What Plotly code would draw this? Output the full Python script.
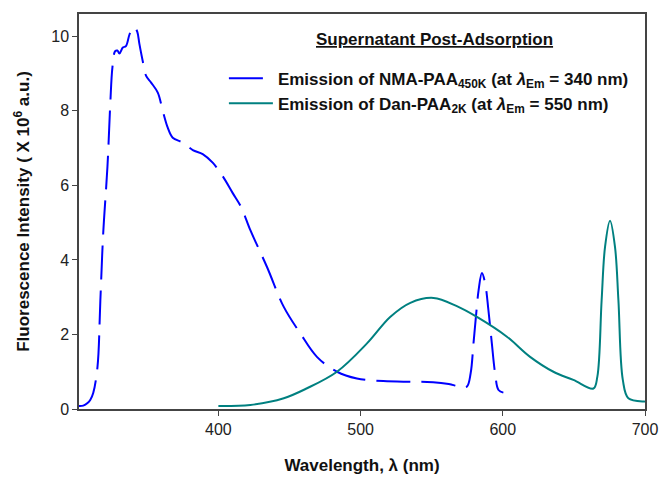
import plotly.graph_objects as go

# NMA-PAA(450K) emission spectrum, excitation 340 nm
nma_wl = [302, 305, 308, 310, 312, 315, 317, 319, 322, 324, 325.5, 327.4, 329, 330.4,
          332.8, 335, 337.5, 339.5, 341, 343, 344.5, 346.8, 349.2, 352.7, 357.4, 360.9,
          364.4, 367.9, 374.9, 382, 389, 396, 403, 410, 416, 422.5, 434.2, 446, 457.6,
          469.3, 483.4, 497.4, 516, 535, 551, 562, 570, 574.7, 577.4, 579.4, 581.3, 583,
          585.3, 587.6, 589.9, 592.3, 594.6, 597, 600.4]
nma_int = [0.08, 0.09, 0.16, 0.25, 0.43, 1.13, 2.9, 4.7, 6.5, 8.2, 9.17, 9.6, 9.62, 9.54,
           9.7, 9.74, 10.05, 10.2, 10.25, 10.12, 9.79, 9.34, 8.94, 8.76, 8.49, 8.0,
           7.55, 7.28, 7.15, 6.95, 6.84, 6.61, 6.25, 5.8, 5.42, 4.8, 3.81, 2.74, 2.03,
           1.4, 1.0, 0.82, 0.75, 0.73, 0.72, 0.67, 0.6, 0.6, 0.96, 1.76, 2.56, 3.19,
           3.65, 3.37, 2.65, 1.76, 0.96, 0.51, 0.44]

# Dan-PAA(2K) emission spectrum, excitation 550 nm
dan_wl = [400, 422.5, 446, 462, 483.4, 504.5, 520.8, 535, 551.3, 567.7, 581.8, 602.9,
          619.2, 635.6, 649.6, 663.7, 666.5, 669.5, 671.9, 675.4, 678.9, 681.3, 684.4,
          688.3, 699.3, 700]
dan_int = [0.08, 0.11, 0.29, 0.55, 1.0, 1.76, 2.47, 2.85, 2.98, 2.76, 2.47, 1.94,
           1.4, 1.0, 0.78, 0.55, 0.87, 2.92, 4.35, 5.05, 4.35, 2.92, 0.78,
           0.29, 0.2, 0.2]

x_ticks = [400, 500, 600, 700]
y_ticks = [0, 2, 4, 6, 8, 10]

FONT = "Liberation Sans, Arial, sans-serif"

fig = go.Figure()
fig.add_trace(go.Scatter(
    x=nma_wl, y=nma_int, mode="lines", line_shape="spline",
    name="<b>Emission of NMA-PAA<sub>450K</sub> (at <i>λ</i><sub>Em</sub> = 340 nm)</b>",
    line=dict(color="#0000FF", width=2, dash="34px,11px"),
))
fig.add_trace(go.Scatter(
    x=dan_wl, y=dan_int, mode="lines", line_shape="spline",
    name="<b>Emission of Dan-PAA<sub>2K</sub> (at <i>λ</i><sub>Em</sub> = 550 nm)</b>",
    line=dict(color="#008080", width=2),
))

fig.update_layout(
    width=663, height=479,
    margin=dict(l=79, r=18, t=14, b=70, autoexpand=False),
    paper_bgcolor="white", plot_bgcolor="white",
    font=dict(family=FONT, size=16, color="#222222"),
    showlegend=True,
    legend=dict(
        x=0.256, y=0.882, xanchor="left", yanchor="top",
        bgcolor="rgba(0,0,0,0)", font=dict(family=FONT, size=17, color="#111111"),
        tracegroupgap=0, itemwidth=44,
    ),
    annotations=[dict(
        text="<b><u>Supernatant Post-Adsorption</u></b>",
        xref="paper", yref="paper", x=0.628, y=0.935,
        xanchor="center", yanchor="middle", showarrow=False,
        font=dict(family=FONT, size=17, color="#111111"),
    )],
)

fig.update_xaxes(
    range=[302, 700], tickvals=x_ticks, ticks="outside", ticklen=5,
    tickcolor="#444", showline=True, linecolor="#444", linewidth=1.5, mirror=True,
    showgrid=False, zeroline=False, automargin=False,
    title=dict(text="<b>Wavelength, λ (nm)</b>", font=dict(family=FONT, size=17, color="#111111"),
               standoff=22),
    tickfont=dict(family=FONT, size=16, color="#222222"),
)
fig.update_yaxes(
    range=[0, 10.6], tickvals=y_ticks, ticks="outside", ticklen=5,
    tickcolor="#444", showline=True, linecolor="#444", linewidth=1.5, mirror=True,
    showgrid=False, zeroline=False, automargin=False,
    title=dict(text="<b>Fluorescence Intensity ( X 10<sup>6</sup> a.u.)</b>",
               font=dict(family=FONT, size=17, color="#111111"), standoff=17),
    tickfont=dict(family=FONT, size=16, color="#222222"),
)

fig.write_html("out.html")
